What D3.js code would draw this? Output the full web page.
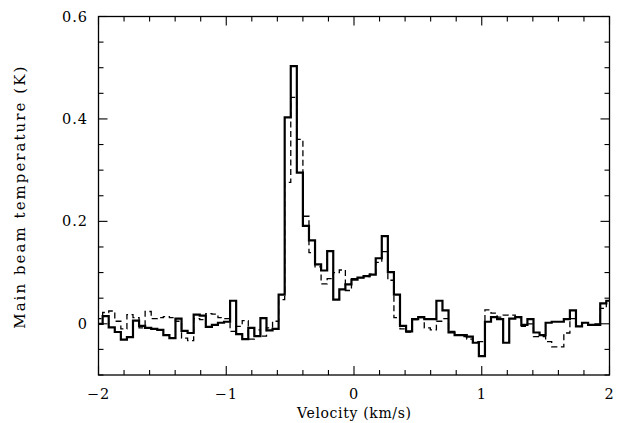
<!DOCTYPE html>
<html><head><meta charset="utf-8">
<script src="https://cdn.jsdelivr.net/npm/d3@7"></script>
<style>html,body{margin:0;padding:0;background:#fff;}svg{display:block;}</style>
</head><body>
<svg id="c" width="621" height="423"></svg>
<script>
const velocity = [-1.991,-1.944,-1.896,-1.849,-1.801,-1.754,-1.706,-1.659,-1.611,-1.564,-1.516,-1.469,-1.421,-1.374,-1.326,-1.279,-1.231,-1.184,-1.136,-1.089,-1.041,-0.994,-0.946,-0.899,-0.851,-0.804,-0.756,-0.709,-0.661,-0.614,-0.566,-0.519,-0.471,-0.424,-0.376,-0.329,-0.281,-0.234,-0.186,-0.139,-0.091,-0.044,0.004,0.051,0.099,0.146,0.194,0.241,0.289,0.336,0.384,0.431,0.479,0.526,0.574,0.621,0.669,0.716,0.764,0.811,0.859,0.906,0.954,1.001,1.049,1.096,1.144,1.191,1.239,1.286,1.334,1.381,1.429,1.476,1.524,1.571,1.619,1.666,1.714,1.761,1.809,1.856,1.904,1.951,1.999];
const solidT = [0.000,0.015,-0.007,-0.016,-0.031,-0.026,0.006,-0.004,-0.008,-0.010,-0.012,-0.022,-0.028,0.010,-0.014,-0.018,0.018,0.016,-0.006,-0.002,0.002,0.004,0.045,-0.020,-0.030,-0.008,-0.024,0.011,-0.013,-0.010,0.057,0.403,0.503,0.295,0.191,0.163,0.116,0.104,0.142,0.047,0.067,0.077,0.086,0.090,0.093,0.096,0.128,0.171,0.101,0.057,-0.004,-0.015,0.009,0.013,0.009,0.009,0.045,0.026,-0.017,-0.022,-0.022,-0.025,-0.037,-0.063,0.004,0.013,0.009,-0.037,0.010,0.013,-0.002,0.009,-0.017,-0.022,0.002,0.004,0.004,0.009,0.026,-0.005,0.002,-0.002,-0.002,0.040,0.045];
const dashedT = [0.010,0.022,0.025,0.005,-0.010,0.018,0.012,-0.008,0.024,0.010,0.012,0.014,0.012,0.005,-0.028,-0.033,0.010,0.008,0.020,0.019,0.012,0.010,-0.015,-0.005,0.006,-0.030,-0.012,-0.024,-0.008,0.005,0.047,0.276,0.442,0.360,0.210,0.139,0.111,0.078,0.088,0.100,0.105,0.065,0.088,0.090,0.092,0.097,0.120,0.141,0.085,0.012,-0.010,-0.016,0.008,0.012,-0.008,-0.012,0.005,0.010,-0.015,-0.022,-0.025,-0.030,-0.035,-0.035,0.027,0.021,0.013,0.017,0.017,0.012,-0.005,0.000,-0.025,-0.025,-0.035,-0.045,-0.045,-0.018,0.010,-0.005,0.002,-0.002,0.000,0.030,0.045];
const xMajorTicks = [-2,-1,0,1,2];
const xTickLabels = ["\u22122","\u22121","0","1","2"];
const yMajorTicks = [0,0.2,0.4,0.6];
const yTickLabels = ["0","0.2","0.4","0.6"];
const xLabel = "Velocity (km/s)";
const yLabel = "Main beam temperature (K)";

const svg = d3.select("#c");
const L=98.5,R=609.5,T=16.5,B=375;
const x = d3.scaleLinear().domain([-2,2]).range([L,R]);
const y = d3.scaleLinear().domain([-0.1,0.6]).range([B,T]);
const font = "'DejaVu Serif', serif";

svg.append("defs").append("clipPath").attr("id","clip")
  .append("rect").attr("x",L).attr("y",T).attr("width",R-L).attr("height",B-T);

const lineStep = d3.line().curve(d3.curveStep).x(d=>d[0]).y(d=>d[1]);
function pts(vals){
  const p = vals.map((v,i)=>[x(velocity[i]),y(v)]);
  p.unshift([L-3,y(vals[0])]);
  p.push([R+3,y(vals[vals.length-1])]);
  return p;
}
const g = svg.append("g").attr("clip-path","url(#clip)");
g.append("path").attr("d",lineStep(pts(dashedT))).attr("fill","none")
  .attr("stroke","#000").attr("stroke-width",1.3).attr("stroke-dasharray","6,3.5");
g.append("path").attr("d",lineStep(pts(solidT))).attr("fill","none")
  .attr("stroke","#000").attr("stroke-width",2.2).attr("stroke-linejoin","miter");

// frame
svg.append("rect").attr("x",L).attr("y",T).attr("width",R-L).attr("height",B-T)
  .attr("fill","none").attr("stroke","#000").attr("stroke-width",1.3);

// ticks
const xMinor = x.ticks(20), yMinor = y.ticks(14);
const tk = svg.append("g").attr("stroke","#000").attr("stroke-width",1.1);
xMinor.forEach(v=>{
  const maj = xMajorTicks.some(m=>Math.abs(m-v)<1e-9);
  const len = maj?9:5;
  tk.append("line").attr("x1",x(v)).attr("x2",x(v)).attr("y1",B).attr("y2",B-len);
  tk.append("line").attr("x1",x(v)).attr("x2",x(v)).attr("y1",T).attr("y2",T+len);
});
yMinor.forEach(v=>{
  const maj = yMajorTicks.some(m=>Math.abs(m-v)<1e-9);
  const len = maj?9:5;
  tk.append("line").attr("y1",y(v)).attr("y2",y(v)).attr("x1",L).attr("x2",L+len);
  tk.append("line").attr("y1",y(v)).attr("y2",y(v)).attr("x1",R).attr("x2",R-len);
});

// tick labels
xMajorTicks.forEach((v,i)=>{
  svg.append("text").attr("x",x(v)).attr("y",399).attr("text-anchor","middle")
    .attr("font-family",font).attr("font-size",14.5).attr("letter-spacing",1)
    .text(xTickLabels[i]);
});
yMajorTicks.forEach((v,i)=>{
  svg.append("text").attr("x",88).attr("y",y(v)+5).attr("text-anchor","end")
    .attr("font-family",font).attr("font-size",14.5).attr("letter-spacing",1)
    .text(yTickLabels[i]);
});
svg.append("text").attr("x",(L+R)/2).attr("y",418).attr("text-anchor","middle")
  .attr("font-family",font).attr("font-size",14).attr("textLength",114)
  .attr("lengthAdjust","spacing").text(xLabel);
svg.append("text").attr("transform",`translate(25,${(T+B)/2 + 2}) rotate(-90)`)
  .attr("text-anchor","middle").attr("font-family",font).attr("font-size",15)
  .attr("textLength",262).attr("lengthAdjust","spacing").text(yLabel);
</script>
</body></html>
